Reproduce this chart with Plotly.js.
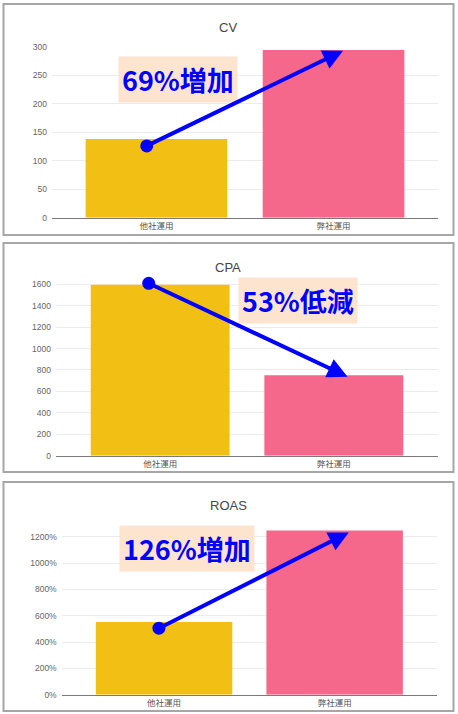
<!DOCTYPE html>
<html>
<head>
<meta charset="utf-8">
<script src="https://cdn.plot.ly/plotly-3.0.1.min.js"></script>
<style>
html,body{margin:0;padding:0;background:#fff;}
#chart{width:458px;height:714px;}
</style>
</head>
<body>
<div id="chart"></div>
<script>
// ---- data ----
const categories = ['他社運用', '弊社運用'];
const cvValues = [138, 294];
const cpaValues = [1595, 750];
const roasValues = [552, 1248];
const panelTitles = ['CV', 'CPA', 'ROAS'];
const changeLabels = ['69%増加', '53%低減', '126%増加'];
// arrow start/end (category position, value)
const cvArrow = [[-0.055, 126], [1.054, 293]];
const cpaArrow = [[-0.066, 1609], [1.079, 737]];
const roasArrow = [[-0.03, 505], [1.083, 1233]];
// label box centers (category position, value)
const cvLabelPos = [0.119, 242];
const cpaLabelPos = [0.795, 1446];
const roasLabelPos = [0.132, 1114];
const cvTicks = [0, 50, 100, 150, 200, 250, 300];
const cpaTicks = [0, 200, 400, 600, 800, 1000, 1200, 1400, 1600];
const roasTicks = [0, 200, 400, 600, 800, 1000, 1200];

// ---- layout helpers ----
const W = 458, H = 714;
const px = v => v / W;
const py = v => 1 - v / H;
const barColors = ['#f2c014', '#f5688c'];
const FONT = '"Noto Sans CJK JP", "Noto Sans", sans-serif';

const panels = [
  {vals: cvValues, arrow: cvArrow, lab: cvLabelPos, ticks: cvTicks, range: [0, 300], suffix: '',
   plot: {x0: 52, x1: 438, y0: 46.7, y1: 217.7}, xr: [-0.59, 1.59], box: {y0: 4, y1: 235}, titleY: 28},
  {vals: cpaValues, arrow: cpaArrow, lab: cpaLabelPos, ticks: cpaTicks, range: [0, 1640], suffix: '',
   plot: {x0: 56, x1: 438, y0: 280.0, y1: 455.7}, xr: [-0.6, 1.6], box: {y0: 243, y1: 472}, titleY: 267},
  {vals: roasValues, arrow: roasArrow, lab: roasLabelPos, ticks: roasTicks, range: [0, 1280], suffix: '%',
   plot: {x0: 61.7, x1: 437, y0: 526.2, y1: 694.7}, xr: [-0.6, 1.6], box: {y0: 482, y1: 711}, titleY: 505}
];

const data = [];
const layout = {
  width: W, height: H,
  margin: {l: 0, r: 0, t: 0, b: 0},
  paper_bgcolor: '#fff', plot_bgcolor: '#fff',
  showlegend: false,
  font: {family: FONT},
  shapes: [], annotations: []
};

panels.forEach((p, i) => {
  const n = i === 0 ? '' : String(i + 1);
  const xa = 'x' + n, ya = 'y' + n;
  data.push({
    type: 'bar', x: [0, 1], y: p.vals, xaxis: xa, yaxis: ya,
    width: 0.8, marker: {color: barColors, line: {width: 0}},
    cliponaxis: false, hoverinfo: 'skip'
  });
  data.push({
    type: 'scatter', mode: 'markers', x: [p.arrow[0][0]], y: [p.arrow[0][1]],
    xaxis: xa, yaxis: ya, marker: {color: '#0000ff', size: 13},
    cliponaxis: false, hoverinfo: 'skip'
  });
  layout['xaxis' + n] = {
    domain: [px(p.plot.x0), px(p.plot.x1)], anchor: ya, range: p.xr,
    tickmode: 'array', tickvals: [0, 1], ticktext: categories,
    showgrid: false, zeroline: false, showline: true, linecolor: '#7a7a7a', linewidth: 1.5,
    ticks: '', tickfont: {size: 8.5, color: '#555', family: FONT}, fixedrange: true
  };
  layout['yaxis' + n] = {
    domain: [py(p.plot.y1), py(p.plot.y0)], anchor: xa, range: p.range,
    tickmode: 'array', tickvals: p.ticks, ticktext: p.ticks.map(t => t + p.suffix),
    showgrid: true, gridcolor: '#ebebeb', gridwidth: 1, zeroline: false, showline: false,
    ticks: '', ticklabelstandoff: 4,
    tickfont: {size: 8.5, color: '#666', family: 'Liberation Sans, Arial, sans-serif'}, fixedrange: true
  };
  layout.shapes.push({
    type: 'rect', xref: 'paper', yref: 'paper',
    x0: px(3.5), x1: px(453.5), y0: py(p.box.y1), y1: py(p.box.y0),
    line: {color: '#a6a6a6', width: 2}, fillcolor: 'rgba(0,0,0,0)', layer: 'below'
  });
  layout.annotations.push({
    xref: 'paper', yref: 'paper', x: px(228), y: py(p.titleY), text: panelTitles[i],
    showarrow: false, xanchor: 'center', yanchor: 'middle',
    font: {size: 13, color: '#444', family: 'Liberation Sans, Arial, sans-serif'}
  });
  layout.annotations.push({
    xref: xa, yref: ya, x: p.lab[0], y: p.lab[1], text: '<b>' + changeLabels[i] + '</b>',
    showarrow: false, xanchor: 'center', yanchor: 'middle',
    bgcolor: '#fce4cf', borderpad: 3,
    font: {size: 27, color: '#0000ff', family: FONT}
  });
  layout.annotations.push({
    xref: xa, yref: ya, axref: xa, ayref: ya,
    x: p.arrow[1][0], y: p.arrow[1][1], ax: p.arrow[0][0], ay: p.arrow[0][1],
    text: '', showarrow: true, arrowhead: 2, arrowsize: 1, arrowwidth: 4,
    arrowcolor: '#0000ff', standoff: 0, startstandoff: 0
  });
});

Plotly.newPlot('chart', data, layout, {displayModeBar: false, staticPlot: true});
</script>
</body>
</html>
